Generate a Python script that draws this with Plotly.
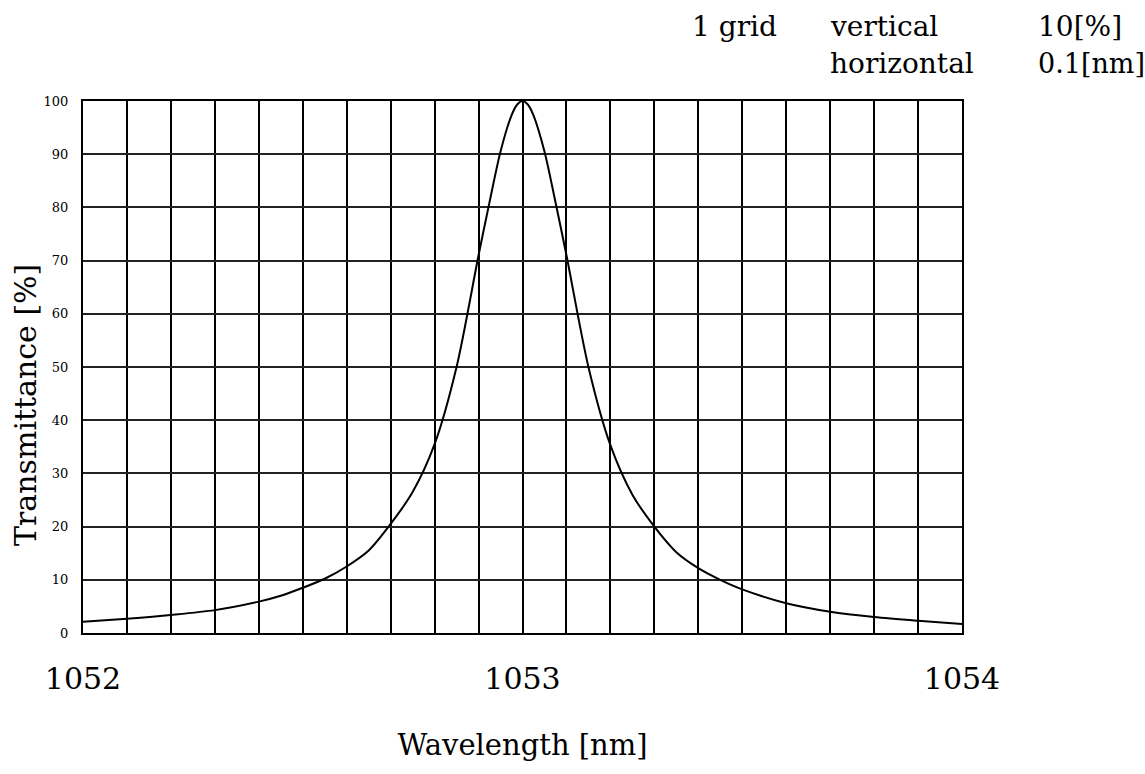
import plotly.graph_objects as go

# Wavelength [nm] and transmittance [%]
wavelength = [1052.0, 1052.1, 1052.2, 1052.3, 1052.4, 1052.45, 1052.5, 1052.55,
              1052.6, 1052.65, 1052.7, 1052.75, 1052.8, 1052.85, 1052.9, 1052.925,
              1052.95, 1052.975, 1052.9875, 1053.0, 1053.0125, 1053.025, 1053.05,
              1053.075, 1053.1, 1053.15, 1053.2, 1053.25, 1053.3, 1053.35, 1053.4,
              1053.45, 1053.5, 1053.6, 1053.7, 1053.8, 1053.9, 1054.0]
transmittance = [2.1, 2.7, 3.4, 4.3, 5.9, 7.0, 8.5, 10.2,
                 12.5, 15.5, 20.5, 26.5, 35.5, 50.0, 71.0, 81.0,
                 90.5, 97.3, 99.3, 100.0, 99.3, 97.3, 90.5,
                 81.0, 71.0, 50.0, 35.3, 26.0, 20.0, 15.2, 12.2,
                 10.0, 8.2, 5.6, 4.0, 3.0, 2.3, 1.7]

x_ticks = [1052, 1053, 1054]
y_ticks = [0, 10, 20, 30, 40, 50, 60, 70, 80, 90, 100]

SERIF = "DejaVu Serif"
W, H = 1145, 774
L, R, T, B = 83, 183, 101, 141
PW, PH = W - L - R, H - T - B


def px_to_paper(px, py):
    return (px - L) / PW, (H - B - py) / PH


fig = go.Figure()
fig.add_trace(go.Scatter(
    x=wavelength, y=transmittance, mode="lines",
    line=dict(color="black", width=2, shape="spline", smoothing=0.8),
    showlegend=False, hoverinfo="skip",
))

fig.update_layout(
    width=W, height=H,
    margin=dict(l=L, r=R, t=T, b=B),
    paper_bgcolor="white", plot_bgcolor="white",
    font=dict(family=SERIF, color="black"),
    xaxis=dict(
        range=[1052, 1054], tickvals=x_ticks, ticktext=[str(v) for v in x_ticks],
        tickfont=dict(family=SERIF, size=30, color="black"),
        ticks="", ticklabelstandoff=18,
        showgrid=True, gridcolor="black", gridwidth=2,
        minor=dict(dtick=0.1, tick0=1052, showgrid=True, gridcolor="black", gridwidth=2, ticks=""),
        showline=True, linecolor="black", linewidth=2, mirror=True,
        zeroline=False,
        title=dict(text="Wavelength [nm]", font=dict(family=SERIF, size=29, color="black"), standoff=40),
    ),
    yaxis=dict(
        range=[0, 100], tickvals=y_ticks,
        tickfont=dict(family=SERIF, size=13, color="black"),
        ticks="", ticklabelstandoff=10,
        showgrid=True, gridcolor="#222222", gridwidth=1.5,
        showline=True, linecolor="black", linewidth=2, mirror=True,
        zeroline=False,
    ),
)

# y-axis title placed to match the reference position
yx, yy = px_to_paper(25, 405)
fig.add_annotation(
    text="Transmittance [%]", x=yx, y=yy, xref="paper", yref="paper",
    xanchor="center", yanchor="middle", textangle=-90, showarrow=False,
    font=dict(family=SERIF, size=30, color="black"),
)

header = [
    ("1 grid", 690, 27, 28),
    ("vertical", 828, 27, 28),
    ("10[%]", 1036, 27, 28),
    ("horizontal", 828, 64, 28),
    ("0.1[nm]", 1036, 64, 27),
]
for txt, px, py, fs in header:
    ax, ay = px_to_paper(px, py)
    fig.add_annotation(
        text=txt, x=ax, y=ay, xref="paper", yref="paper",
        xanchor="left", yanchor="middle", showarrow=False,
        font=dict(family=SERIF, size=fs, color="black"),
    )

fig.write_html("out.html")
